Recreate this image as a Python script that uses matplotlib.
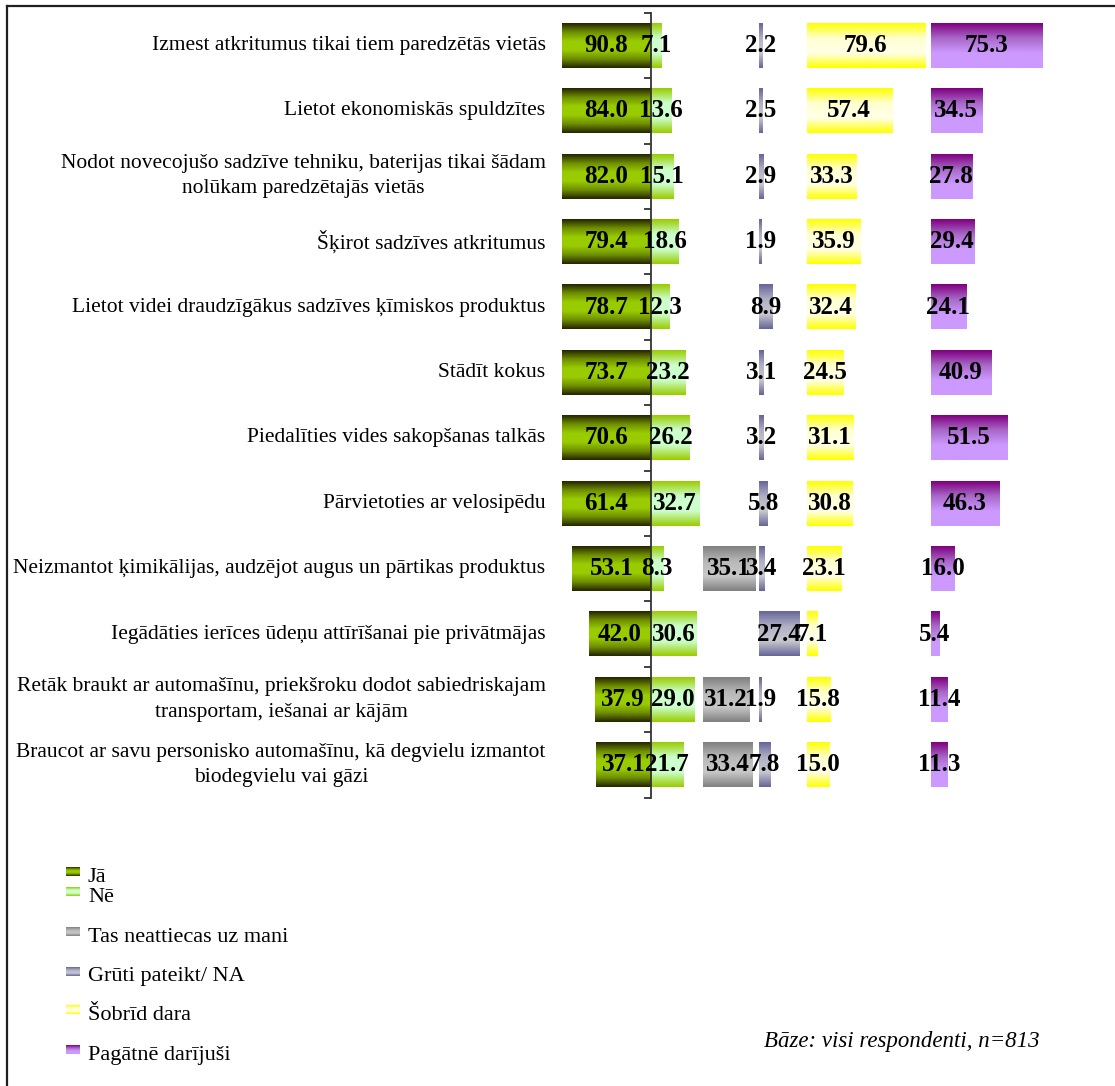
import numpy as np
import matplotlib
matplotlib.use("Agg")
import matplotlib.pyplot as plt
from matplotlib.colors import LinearSegmentedColormap

plt.rcParams["font.family"] = ["Liberation Serif", "DejaVu Serif"]

# dati
categories = [
    "Izmest atkritumus tikai tiem paredzētās vietās",
    "Lietot ekonomiskās spuldzītes",
    "Nodot novecojušo sadzīve tehniku, baterijas tikai šādam\nnolūkam paredzētajās vietās",
    "Šķirot sadzīves atkritumus",
    "Lietot videi draudzīgākus sadzīves ķīmiskos produktus",
    "Stādīt kokus",
    "Piedalīties vides sakopšanas talkās",
    "Pārvietoties ar velosipēdu",
    "Neizmantot ķimikālijas, audzējot augus un pārtikas produktus",
    "Iegādāties ierīces ūdeņu attīrīšanai pie privātmājas",
    "Retāk braukt ar automašīnu, priekšroku dodot sabiedriskajam\ntransportam, iešanai ar kājām",
    "Braucot ar savu personisko automašīnu, kā degvielu izmantot\nbiodegvielu vai gāzi",
]
ja = [90.8, 84.0, 82.0, 79.4, 78.7, 73.7, 70.6, 61.4, 53.1, 42.0, 37.9, 37.1]
ne = [7.1, 13.6, 15.1, 18.6, 12.3, 23.2, 26.2, 32.7, 8.3, 30.6, 29.0, 21.7]
neattiecas = [0, 0, 0, 0, 0, 0, 0, 0, 35.1, 0, 31.2, 33.4]
gruti = [2.2, 2.5, 2.9, 1.9, 8.9, 3.1, 3.2, 5.8, 3.4, 27.4, 1.9, 7.8]
sobrid = [79.6, 57.4, 33.3, 35.9, 32.4, 24.5, 31.1, 30.8, 23.1, 7.1, 15.8, 15.0]
pagatne = [75.3, 34.5, 27.8, 29.4, 24.1, 40.9, 51.5, 46.3, 16.0, 5.4, 11.4, 11.3]

legend_labels = ["Jā", "Nē", "Tas neattiecas uz mani", "Grūti pateikt/ NA",
                 "Šobrīd dara", "Pagātnē darījuši"]
base_note = "Bāze: visi respondenti, n=813"

# krāsu gradienti (augša -> apakša)
grad_ja = ["#262600", "#6e8f00", "#99cc00", "#99cc00", "#6e8f00", "#262600"]
grad_ne = ["#99cc00", "#ccffcc", "#ccffcc", "#99cc00"]
grad_na = ["#808080", "#b8b8b8", "#c8c8c8", "#808080"]
grad_gr = ["#666699", "#b0b0c4", "#c8c8d0", "#666699"]
grad_sd = ["#ffff00", "#ffffd0", "#ffffe8", "#ffff00"]
grad_pg = ["#800080", "#a868c8", "#cc99ff", "#cc99ff"]

# nobīdes kolonnām
off_na, off_gr, off_sd, off_pg = 35, 72.7, 105, 188.5
xmin, xmax = -60, 309.5

W, H = 1115, 1086
fig = plt.figure(figsize=(W / 100, H / 100), dpi=100)
ax = fig.add_axes([562 / W, 1 - 797.6 / H, (1110 - 562) / W, (797.6 - 12.8) / H])

y = np.arange(len(categories))
grad = np.linspace(0, 1, 100).reshape(-1, 1)


def grad_bars(vals, left, colors):
    bars = ax.barh(y, vals, left=left, height=0.68, color=colors[1],
                   linewidth=0, zorder=2)
    cmap = LinearSegmentedColormap.from_list("g", colors)
    for b in bars:
        w = b.get_width()
        if w == 0:
            continue
        x0, x1 = sorted([b.get_x(), b.get_x() + w])
        y0 = b.get_y()
        ax.imshow(grad, cmap=cmap, extent=(x0, x1, y0 + b.get_height(), y0),
                  aspect="auto", interpolation="bilinear", zorder=2.1)
    return bars


grad_bars(-np.array(ja), 0, grad_ja)
grad_bars(ne, 0, grad_ne)
grad_bars(neattiecas, off_na, grad_na)
grad_bars(gruti, off_gr, grad_gr)
grad_bars(sobrid, off_sd, grad_sd)
grad_bars(pagatne, off_pg, grad_pg)

lab = dict(ha="center", va="center", fontsize=18, fontweight="bold", zorder=5)
for i in range(len(categories)):
    ax.text((max(-ja[i], xmin)) / 2, i, f"{ja[i]:.1f}", **lab)
    ax.text(ne[i] / 2, i, f"{ne[i]:.1f}", **lab)
    if neattiecas[i] > 0:
        ax.text(off_na + neattiecas[i] / 2, i, f"{neattiecas[i]:.1f}", **lab)
    ax.text(off_gr + gruti[i] / 2, i, f"{gruti[i]:.1f}", **lab)
    ax.text(off_sd + sobrid[i] / 2, i, f"{sobrid[i]:.1f}", **lab)
    ax.text(off_pg + pagatne[i] / 2, i, f"{pagatne[i]:.1f}", **lab)
    ax.text(-0.03, i, categories[i], transform=ax.get_yaxis_transform(),
            ha="right", va="center", multialignment="center",
            fontsize=15.5, linespacing=1.45)

ax.set_xlim(xmin, xmax)
ax.set_ylim(len(categories) - 0.5, -0.5)
for s in ["top", "right", "bottom"]:
    ax.spines[s].set_visible(False)
ax.spines["left"].set_position(("data", 0))
ax.spines["left"].set_color("#333333")
ax.spines["left"].set_linewidth(1.3)
ax.spines["left"].set_zorder(4)
ax.set_yticks(np.arange(-0.5, len(categories), 1))
ax.tick_params(axis="y", direction="out", length=5, width=1.3,
               color="#333333", labelleft=False)
ax.set_xticks([])
ax.patch.set_alpha(0)

# leģenda un rāmis
ov = fig.add_axes([0, 0, 1, 1], zorder=-1)
ov.set_xlim(0, W)
ov.set_ylim(H, 0)
ov.axis("off")
leg_base = [881.5, 902, 942, 981.5, 1020, 1060]
grads = [grad_ja, grad_ne, grad_na, grad_gr, grad_sd, grad_pg]
for txt, yb, g in zip(legend_labels, leg_base, grads):
    cmap = LinearSegmentedColormap.from_list("g", g)
    ov.imshow(grad, cmap=cmap, extent=(66, 80, yb - 5.5, yb - 14.5),
              aspect="auto", interpolation="bilinear")
    ov.text(88, yb, txt, ha="left", va="baseline", fontsize=16)
ov.text(1040, 1047, base_note, ha="right", va="baseline", fontsize=16.5,
        style="italic")
ov.plot([7, W], [6, 6], color="#202020", lw=1.6)
ov.plot([7, 7], [6, H], color="#202020", lw=1.6)
ov.set_xlim(0, W)
ov.set_ylim(H, 0)

fig.savefig("out.png", dpi=100)
